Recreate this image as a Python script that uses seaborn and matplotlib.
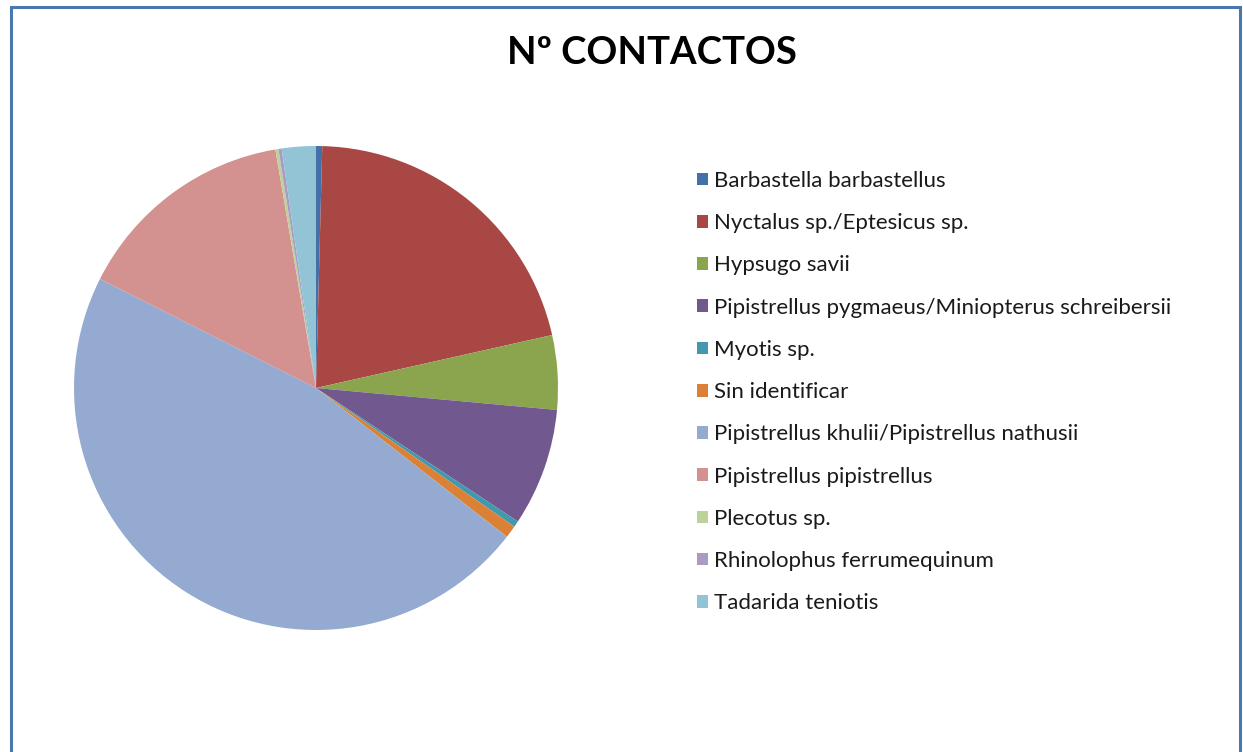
import matplotlib
matplotlib.use("Agg")
import matplotlib.pyplot as plt
import matplotlib.patches as mpatches
import seaborn as sns

# Nº de contactos por especie
especies = [
    "Barbastella barbastellus",
    "Nyctalus sp./Eptesicus sp.",
    "Hypsugo savii",
    "Pipistrellus pygmaeus/Miniopterus schreibersii",
    "Myotis sp.",
    "Sin identificar",
    "Pipistrellus khulii/Pipistrellus nathusii",
    "Pipistrellus pipistrellus",
    "Plecotus sp.",
    "Rhinolophus ferrumequinum",
    "Tadarida teniotis",
]
contactos = [2, 102, 24, 38, 2, 4, 227, 72, 1, 1, 11]

colores = ["#4470AA", "#A84744", "#8AA54E", "#71588F", "#4198AF", "#DA8136",
           "#95AAD1", "#D3918F", "#BCD29A", "#AA9BC3", "#92C4D6"]

sns.set_theme(style="white")
plt.rcParams["font.family"] = ["Lato", "DejaVu Sans"]

W, H = 1243, 752
fig = plt.figure(figsize=(W / 100, H / 100), dpi=100)

# marco del grafico
fig.patches.append(mpatches.Rectangle((11 / W, -0.02), 1229 / W, 1 - 7 / H + 0.02,
                                      transform=fig.transFigure, fill=False,
                                      edgecolor="#4A77AE", lw=2.2, zorder=0))

cx, cy, r = 316, 388, 242
ax = fig.add_axes([(cx - r) / W, (H - cy - r) / H, 2 * r / W, 2 * r / H])
wedges, _ = ax.pie(contactos, colors=colores, startangle=90, counterclock=False,
                   radius=1, wedgeprops=dict(linewidth=0))
ax.set_xlim(-1, 1)
ax.set_ylim(-1, 1)
ax.set_aspect("equal")
ax.axis("off")

fig.text(652 / W, 1 - 53 / H, "Nº CONTACTOS", ha="center", va="center",
         fontsize=27.5, fontweight="bold", color="black")

fig.legend(wedges, especies, loc="upper left",
           bbox_to_anchor=(697 / W, 1 - 171 / H), frameon=False,
           fontsize=16, handlelength=0.5, handleheight=0.5,
           handletextpad=0.26, labelspacing=1.0, borderpad=0, borderaxespad=0,
           labelcolor="#1a1a1a")

fig.savefig("out.png", dpi=100)
